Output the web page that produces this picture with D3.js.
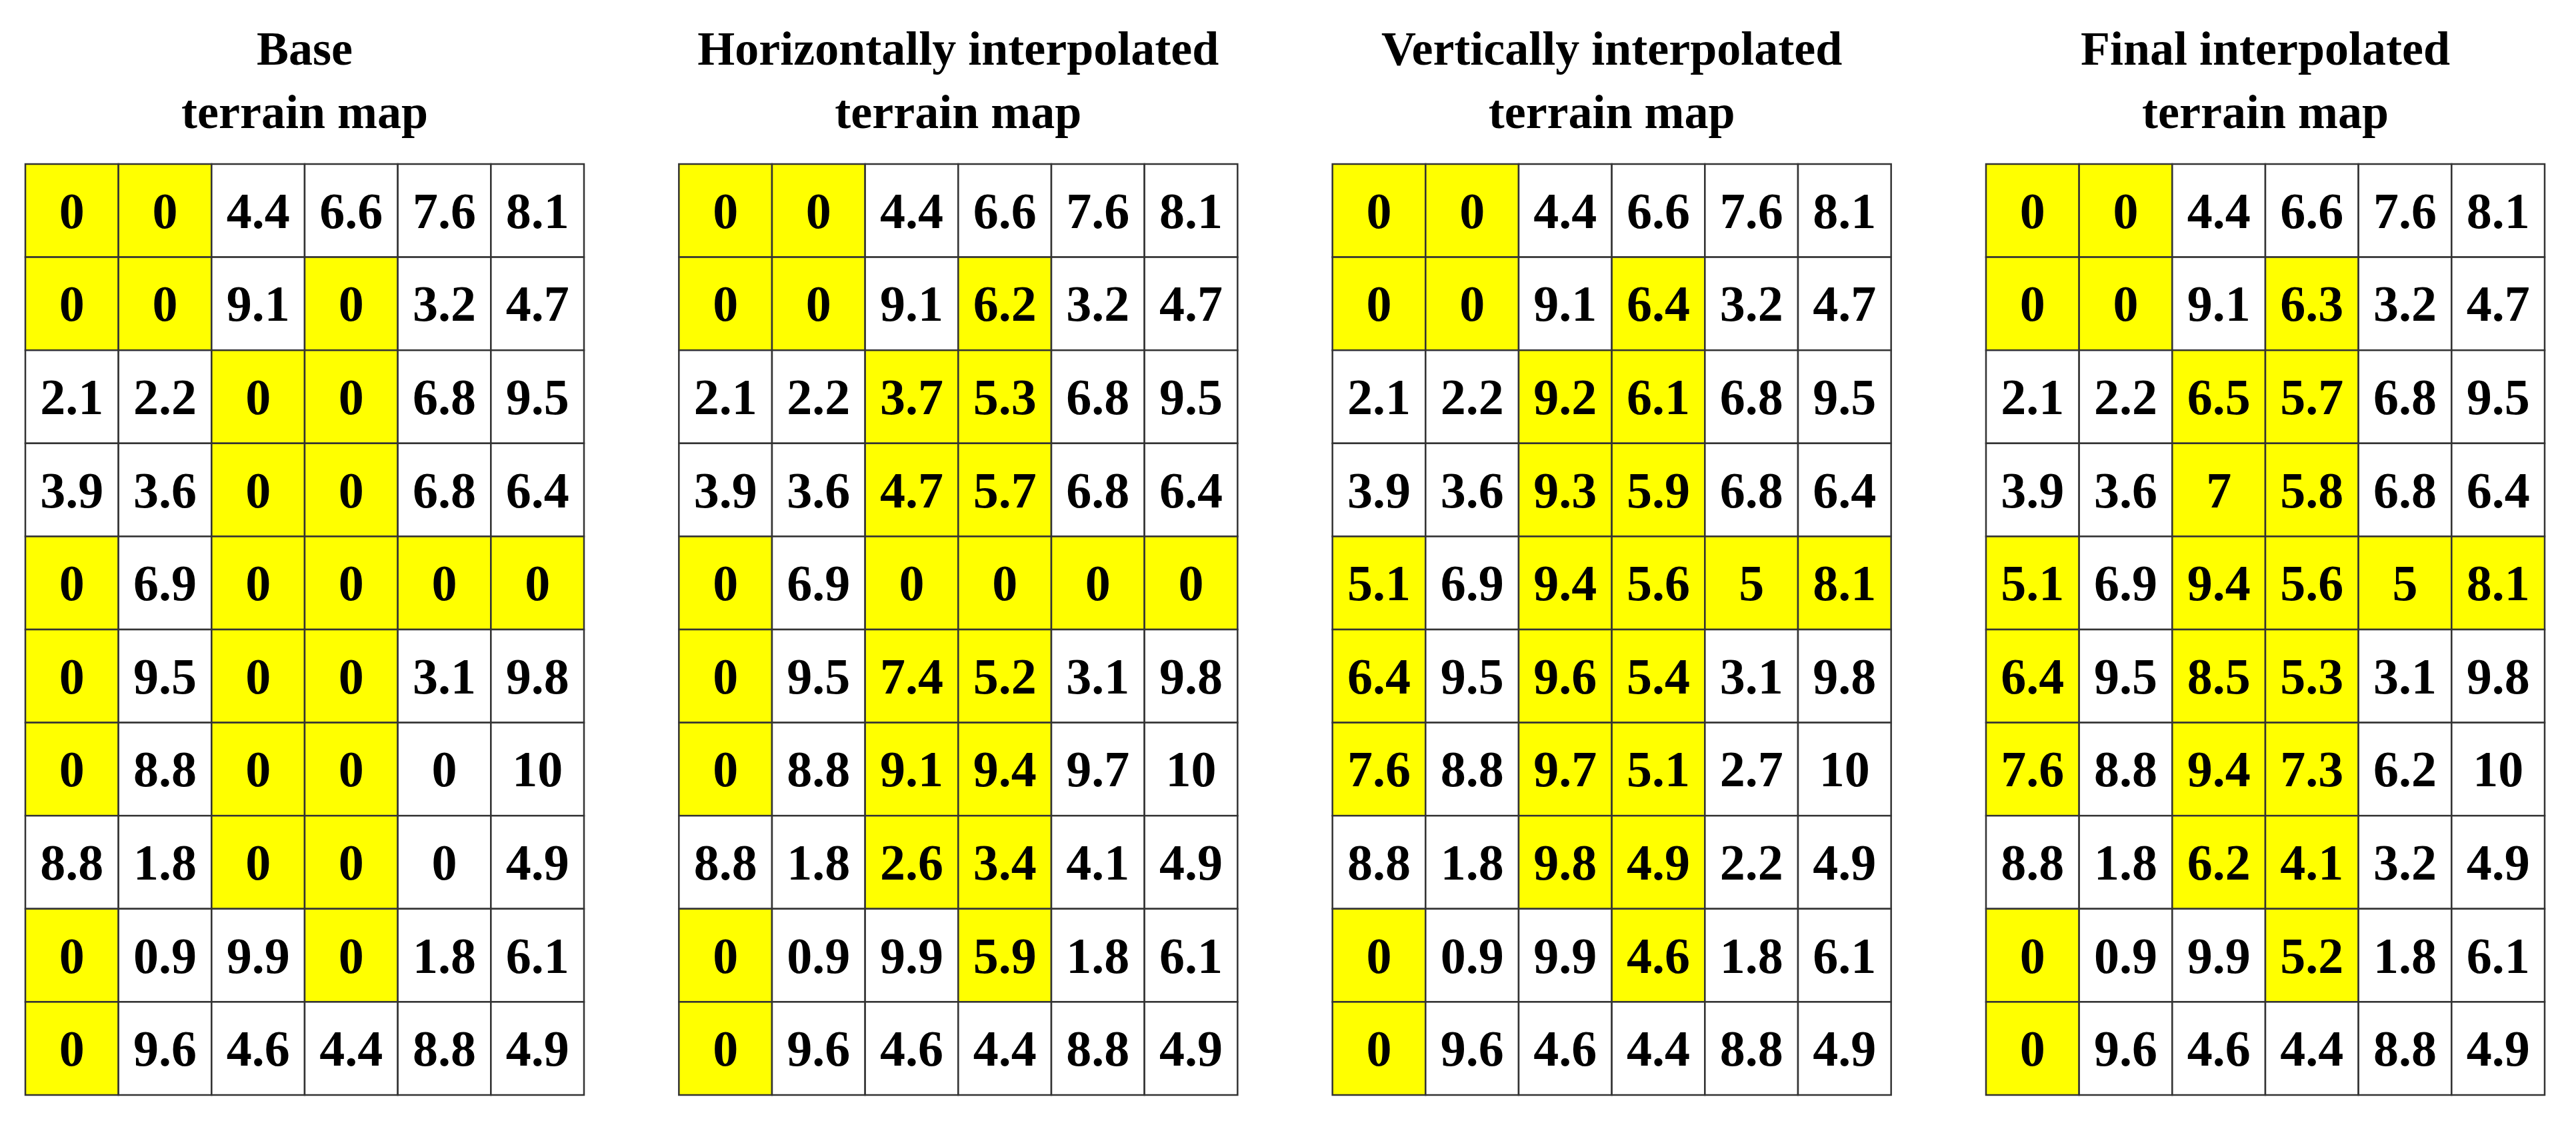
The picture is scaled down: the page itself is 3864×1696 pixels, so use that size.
<!DOCTYPE html><html><head><meta charset="utf-8"><script src="https://cdn.jsdelivr.net/npm/d3@7"></script>
<style>body{margin:0;background:#fff}</style></head><body><script>
const titles=[["Base","terrain map"],["Horizontally interpolated","terrain map"],["Vertically interpolated","terrain map"],["Final interpolated","terrain map"]];
const mask=["110000","110100","001100","001100","101111","101100","101100","001100","100100","100000"];
const base=[["0","0","4.4","6.6","7.6","8.1"],["0","0","9.1","0","3.2","4.7"],["2.1","2.2","0","0","6.8","9.5"],["3.9","3.6","0","0","6.8","6.4"],["0","6.9","0","0","0","0"],["0","9.5","0","0","3.1","9.8"],["0","8.8","0","0","0","10"],["8.8","1.8","0","0","0","4.9"],["0","0.9","9.9","0","1.8","6.1"],["0","9.6","4.6","4.4","8.8","4.9"]];
const horiz=[["0","0","4.4","6.6","7.6","8.1"],["0","0","9.1","6.2","3.2","4.7"],["2.1","2.2","3.7","5.3","6.8","9.5"],["3.9","3.6","4.7","5.7","6.8","6.4"],["0","6.9","0","0","0","0"],["0","9.5","7.4","5.2","3.1","9.8"],["0","8.8","9.1","9.4","9.7","10"],["8.8","1.8","2.6","3.4","4.1","4.9"],["0","0.9","9.9","5.9","1.8","6.1"],["0","9.6","4.6","4.4","8.8","4.9"]];
const vert=[["0","0","4.4","6.6","7.6","8.1"],["0","0","9.1","6.4","3.2","4.7"],["2.1","2.2","9.2","6.1","6.8","9.5"],["3.9","3.6","9.3","5.9","6.8","6.4"],["5.1","6.9","9.4","5.6","5","8.1"],["6.4","9.5","9.6","5.4","3.1","9.8"],["7.6","8.8","9.7","5.1","2.7","10"],["8.8","1.8","9.8","4.9","2.2","4.9"],["0","0.9","9.9","4.6","1.8","6.1"],["0","9.6","4.6","4.4","8.8","4.9"]];
const finalMap=[["0","0","4.4","6.6","7.6","8.1"],["0","0","9.1","6.3","3.2","4.7"],["2.1","2.2","6.5","5.7","6.8","9.5"],["3.9","3.6","7","5.8","6.8","6.4"],["5.1","6.9","9.4","5.6","5","8.1"],["6.4","9.5","8.5","5.3","3.1","9.8"],["7.6","8.8","9.4","7.3","6.2","10"],["8.8","1.8","6.2","4.1","3.2","4.9"],["0","0.9","9.9","5.2","1.8","6.1"],["0","9.6","4.6","4.4","8.8","4.9"]];
const grids=[base,horiz,vert,finalMap];
const W=3864,H=1696;
const svg=d3.select("body").append("svg").attr("width",W).attr("height",H).style("font-family","'Liberation Serif','Times New Roman',serif").style("font-weight","bold");
const gx=d3.scaleLinear().domain([0,3]).range([38,2979]);
const cols=d3.range(6),rows=d3.range(10);
grids.forEach((g,k)=>{
  const x0=gx(k);
  const x=d3.scaleBand().domain(cols).range([x0,x0+838]);
  const y=d3.scaleBand().domain(rows).range([246,1642]);
  const G=svg.append("g");
  const cx=x0+419;
  G.selectAll("text.t").data(titles[k]).join("text").attr("x",cx).attr("y",(d,i)=>97+i*95).attr("text-anchor","middle").attr("font-size",72).text(d=>d);
  const cells=[];rows.forEach(r=>cols.forEach(c=>cells.push({r,c,v:g[r][c],m:mask[r][c]==="1"})));
  G.selectAll("rect").data(cells).join("rect").attr("x",d=>x(d.c)).attr("y",d=>y(d.r)).attr("width",x.bandwidth()).attr("height",y.bandwidth())
    .attr("fill",d=>d.m?"#ffff00":"#fff").attr("stroke","#333").attr("stroke-width",2.5);
  G.selectAll("text.v").data(cells).join("text").attr("x",d=>x(d.c)+x.bandwidth()/2).attr("y",d=>y(d.r)+y.bandwidth()/2+26)
    .attr("text-anchor","middle").attr("font-size",76).text(d=>d.v);
});
</script></body></html>
